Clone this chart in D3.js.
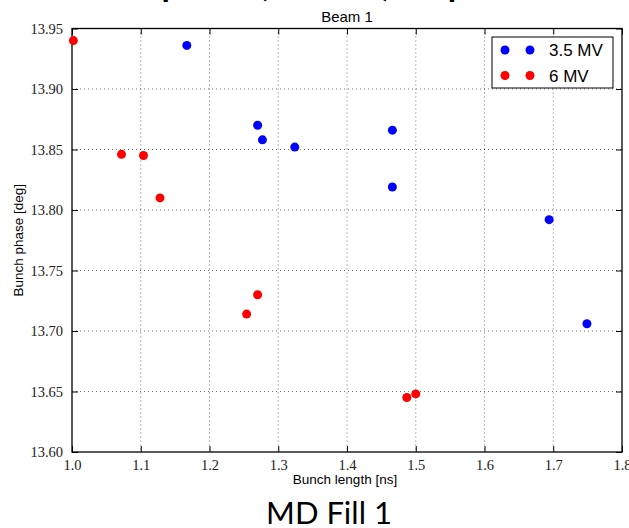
<!DOCTYPE html>
<html>
<head>
<meta charset="utf-8">
<script src="https://cdn.jsdelivr.net/npm/d3@7"></script>
<style>
  html, body { margin: 0; padding: 0; background: #fff; }
  svg { display: block; }
</style>
</head>
<body>
<svg id="chart" width="629" height="528"></svg>
<script>
// Bunch length [ns] vs bunch phase [deg], Beam 1, two RF voltages
const lowVoltageLength = [1.167, 1.270, 1.277, 1.324, 1.466, 1.466, 1.694, 1.749];
const lowVoltagePhase  = [13.936, 13.870, 13.858, 13.852, 13.866, 13.819, 13.792, 13.706];
const highVoltageLength = [1.002, 1.072, 1.104, 1.128, 1.254, 1.270, 1.487, 1.500];
const highVoltagePhase  = [13.940, 13.846, 13.845, 13.810, 13.714, 13.730, 13.645, 13.648];

const seriesNames = ["3.5 MV", "6 MV"];
const seriesColors = ["#0000ff", "#ff0000"];
const xTicks = [1.0, 1.1, 1.2, 1.3, 1.4, 1.5, 1.6, 1.7, 1.8];
const yTicks = [13.60, 13.65, 13.70, 13.75, 13.80, 13.85, 13.90, 13.95];

const series = [
  { name: seriesNames[0], color: seriesColors[0],
    points: lowVoltageLength.map((x, i) => ({ x, y: lowVoltagePhase[i] })) },
  { name: seriesNames[1], color: seriesColors[1],
    points: highVoltageLength.map((x, i) => ({ x, y: highVoltagePhase[i] })) }
];

const svg = d3.select("#chart");
const plot = { left: 72, right: 622, top: 28.5, bottom: 452 };

const x = d3.scaleLinear().domain([1.0, 1.8]).range([plot.left, plot.right]);
const y = d3.scaleLinear().domain([13.60, 13.95]).range([plot.bottom, plot.top]);

const serif = "'Liberation Serif', 'DejaVu Serif', serif";
const sans = "'Liberation Sans', Arial, sans-serif";

// Slide heading, mostly above the visible area
svg.append("text")
  .attr("x", 314).attr("y", -4)
  .attr("text-anchor", "middle")
  .attr("font-family", "Lato, 'Open Sans', sans-serif")
  .attr("font-weight", 700)
  .attr("font-size", 34)
  .attr("fill", "#000")
  .text("Bunch phase (Beam 1) vs. position");

// Dotted grid
const grid = svg.append("g").attr("stroke", "#000").attr("stroke-opacity", 0.7)
  .attr("stroke-width", 0.8).attr("stroke-dasharray", "1,3");
grid.selectAll("line.gx").data(xTicks.slice(1, -1)).join("line")
  .attr("x1", d => x(d)).attr("x2", d => x(d))
  .attr("y1", plot.top).attr("y2", plot.bottom);
grid.selectAll("line.gy").data(yTicks.slice(1, -1)).join("line")
  .attr("y1", d => y(d)).attr("y2", d => y(d))
  .attr("x1", plot.left).attr("x2", plot.right);

// Axes with inward ticks on all four sides
const tickFmtX = d3.format(".1f");
const tickFmtY = d3.format(".2f");
function styleAxis(g) {
  g.attr("font-family", null).attr("font-size", null);
  g.selectAll(".domain").remove();
  g.selectAll(".tick line").attr("stroke", "#000").attr("stroke-width", 1);
  g.selectAll(".tick text")
    .style("font-family", serif).style("font-size", "14.5px").style("font-weight", "normal")
    .attr("fill", "#222");
}
svg.append("g").attr("transform", `translate(0,${plot.bottom})`)
  .call(d3.axisBottom(x).tickValues(xTicks).tickFormat(tickFmtX).tickSizeInner(-6).tickPadding(8))
  .call(styleAxis);
svg.append("g").attr("transform", `translate(0,${plot.top})`)
  .call(d3.axisTop(x).tickValues(xTicks).tickFormat("").tickSizeInner(-6))
  .call(styleAxis);
svg.append("g").attr("transform", `translate(${plot.left},0)`)
  .call(d3.axisLeft(y).tickValues(yTicks).tickFormat(tickFmtY).tickSizeInner(-6).tickPadding(9))
  .call(styleAxis);
svg.append("g").attr("transform", `translate(${plot.right},0)`)
  .call(d3.axisRight(y).tickValues(yTicks).tickFormat("").tickSizeInner(-6))
  .call(styleAxis);

// Frame
svg.append("rect")
  .attr("x", plot.left).attr("y", plot.top)
  .attr("width", plot.right - plot.left).attr("height", plot.bottom - plot.top)
  .attr("fill", "none").attr("stroke", "#000").attr("stroke-width", 1.3);

// Markers
series.forEach(s => {
  svg.append("g").selectAll("circle").data(s.points).join("circle")
    .attr("cx", d => x(d.x)).attr("cy", d => y(d.y))
    .attr("r", 4.5).attr("fill", s.color);
});

// Titles and axis labels
svg.append("text").attr("x", (plot.left + plot.right) / 2).attr("y", 22)
  .attr("text-anchor", "middle").attr("font-family", sans).attr("font-size", 15)
  .text("Beam 1");
svg.append("text").attr("x", 345).attr("y", 484)
  .attr("text-anchor", "middle").attr("font-family", sans).attr("font-size", 13.5)
  .text("Bunch length [ns]");
svg.append("text")
  .attr("transform", `translate(23,${(plot.top + plot.bottom) / 2}) rotate(-90)`)
  .attr("text-anchor", "middle").attr("font-family", sans).attr("font-size", 13.5)
  .text("Bunch phase [deg]");

// Legend
const legend = svg.append("g").attr("transform", "translate(492,37)");
legend.append("rect").attr("width", 121).attr("height", 51)
  .attr("fill", "#fff").attr("stroke", "#000").attr("stroke-width", 1);
series.forEach((s, i) => {
  const row = legend.append("g").attr("transform", `translate(0,${13 + i * 25.5})`);
  [13, 38].forEach(cx => row.append("circle").attr("cx", cx).attr("cy", 0).attr("r", 4.5).attr("fill", s.color));
  row.append("text").attr("x", 57).attr("y", 6)
    .attr("font-family", sans).attr("font-size", 17).text(s.name);
});

// Caption beneath the chart
svg.append("text").attr("x", 329).attr("y", 524)
  .attr("text-anchor", "middle")
  .attr("font-family", "Lato, 'Open Sans', sans-serif")
  .attr("font-size", 31)
  .text("MD Fill 1");
</script>
</body>
</html>
